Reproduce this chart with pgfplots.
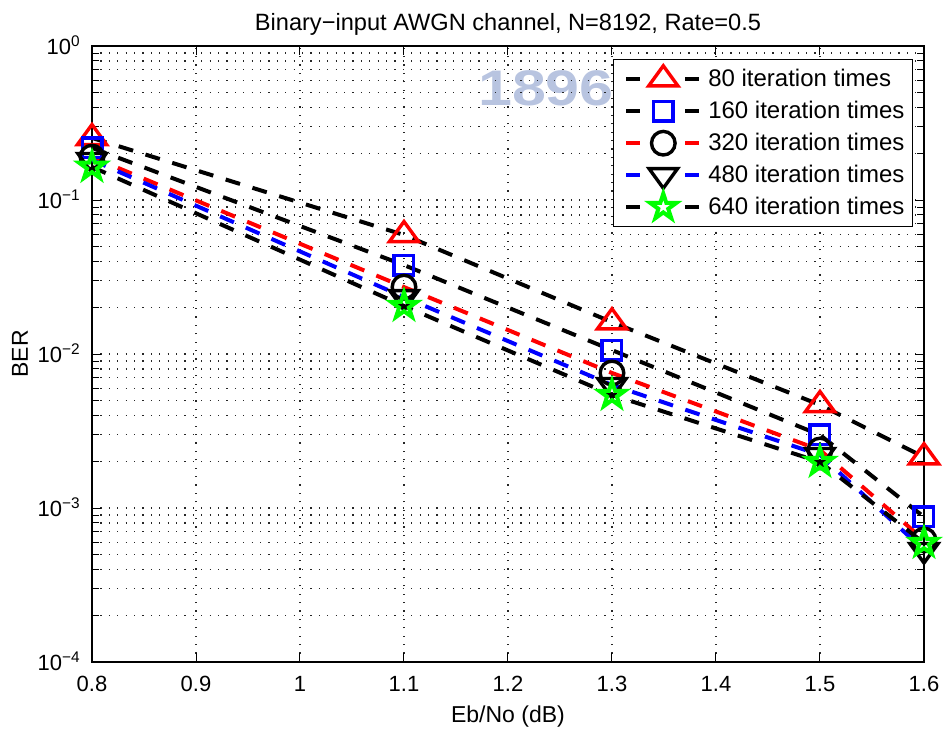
\documentclass[border=0pt]{standalone}
\usepackage{fontspec}
\setmainfont{Liberation Sans}
\usepackage{pgfplots}
\pgfplotsset{compat=1.18}

\definecolor{wm}{RGB}{184,196,224}
\definecolor{mgreen}{RGB}{0,255,0}

% outlined five-pointed star (pentagram) marker
\pgfdeclareplotmark{pentagram}{%
  \pgfpathmoveto{\pgfqpointpolar{90}{\pgfplotmarksize}}%
  \pgfpathlineto{\pgfqpointpolar{126}{0.382\pgfplotmarksize}}%
  \pgfpathlineto{\pgfqpointpolar{162}{\pgfplotmarksize}}%
  \pgfpathlineto{\pgfqpointpolar{198}{0.382\pgfplotmarksize}}%
  \pgfpathlineto{\pgfqpointpolar{234}{\pgfplotmarksize}}%
  \pgfpathlineto{\pgfqpointpolar{270}{0.382\pgfplotmarksize}}%
  \pgfpathlineto{\pgfqpointpolar{306}{\pgfplotmarksize}}%
  \pgfpathlineto{\pgfqpointpolar{342}{0.382\pgfplotmarksize}}%
  \pgfpathlineto{\pgfqpointpolar{18}{\pgfplotmarksize}}%
  \pgfpathlineto{\pgfqpointpolar{54}{0.382\pgfplotmarksize}}%
  \pgfpathclose
  \pgfusepathqstroke
}

\begin{document}
\begin{tikzpicture}
\path[use as bounding box] (-46pt,-33pt) rectangle (427pt,331pt);

% faint seal in the background
\node[text=wm, font=\fontsize{25}{30}\selectfont\bfseries, xscale=1.22] at (227pt,287pt) {1896};

\begin{axis}[
  at={(0pt,0pt)}, anchor=south west,
  scale only axis, width=416pt, height=308pt,
  ymode=log,
  xmin=0.8, xmax=1.6, ymin=1e-4, ymax=1,
  xtick={0.8,0.9,1,1.1,1.2,1.3,1.4,1.5,1.6},
  xticklabels={0.8,0.9,1,1.1,1.2,1.3,1.4,1.5,1.6},
  ytick={1e-4,1e-3,1e-2,1e-1,1},
  yticklabels={10\textsuperscript{−4},10\textsuperscript{−3},10\textsuperscript{−2},10\textsuperscript{−1},10\textsuperscript{0}},
  minor ytick={2e-4,3e-4,4e-4,5e-4,6e-4,7e-4,8e-4,9e-4,
               2e-3,3e-3,4e-3,5e-3,6e-3,7e-3,8e-3,9e-3,
               2e-2,3e-2,4e-2,5e-2,6e-2,7e-2,8e-2,9e-2,
               2e-1,3e-1,4e-1,5e-1,6e-1,7e-1,8e-1,9e-1},
  xmajorgrids, ymajorgrids, yminorgrids,
  grid style={black!85, line width=0.6pt, dash pattern=on 0.6pt off 3.6pt},
  minor grid style={black!85, line width=0.6pt, dash pattern=on 0.6pt off 3.6pt},
  axis line style={line width=0.85pt},
  tick style={black, line width=0.5pt},
  major tick length=4.5pt, minor tick length=3.5pt,
  tick align=inside,
  xticklabel style={font=\fontsize{11}{13}\selectfont, inner sep=0pt, anchor=base, yshift=-14.5pt},
  yticklabel style={font=\fontsize{11}{13}\selectfont, inner sep=0pt, anchor=base east, xshift=-5.5pt, yshift=-4.3pt},
  title={Binary−input AWGN channel, N=8192, Rate=0.5},
  title style={font=\fontsize{11.8}{14}\selectfont, at={(0.5,1)}, anchor=base, yshift=1.5pt, inner sep=0pt},
  xlabel={Eb/No (dB)},
  xlabel style={font=\fontsize{11.5}{14}\selectfont, at={(0.5,0)}, anchor=base, yshift=-30pt, inner sep=0pt},
  ylabel={BER},
  ylabel style={font=\fontsize{11.5}{14}\selectfont, at={(0,0.5)}, anchor=base, yshift=32pt, inner sep=0pt},
  every axis plot/.append style={line width=2pt, dash pattern=on 7.5pt off 6.5pt},
  legend image code/.code={
    \path[draw=none, fill=none] (-2.5pt,-7pt) rectangle (41pt,7pt);
    \draw[#1,solid] (0pt,0pt) -- (7pt,0pt);
    \draw[#1,solid] (29.5pt,0pt) -- (36.5pt,0pt);
    \draw[#1] plot coordinates {(18.5pt,0pt)};
  },
  legend style={at={(axis description cs:0.9868,0.9789)}, anchor=north east,
    draw=black, line width=0.6pt, fill=white,
    inner xsep=4pt, inner ysep=2.8pt,
    font=\fontsize{12}{14}\selectfont,
    nodes={inner sep=0pt}, row sep=2pt},
  legend cell align=left,
]

\addplot[black, mark=triangle, mark size=6.7pt,
  mark options={solid, red, xscale=1.26, line width=1.7pt}]
  coordinates {(0.8,0.253) (1.1,0.0593) (1.3,0.0161) (1.5,0.00467) (1.6,0.00214)};
\addlegendentry{80 iteration times}

\addplot[black, mark=square, mark size=4.9pt,
  mark options={solid, blue, line width=1.7pt}]
  coordinates {(0.8,0.218) (1.1,0.0378) (1.3,0.0106) (1.5,0.00298) (1.6,0.000875)};
\addlegendentry{160 iteration times}

\addplot[red, mark=o, mark size=5.9pt,
  mark options={solid, black, line width=1.7pt}]
  coordinates {(0.8,0.190) (1.1,0.0272) (1.3,0.00753) (1.5,0.00238) (1.6,0.00062)};
\addlegendentry{320 iteration times}

\addplot[blue, mark=triangle, mark size=6.5pt,
  mark options={solid, black, rotate=180, xscale=1.26, line width=1.7pt}]
  coordinates {(0.8,0.182) (1.1,0.0234) (1.3,0.00629) (1.5,0.00221) (1.6,0.000534)};
\addlegendentry{480 iteration times}

\addplot[black, mark=pentagram, mark size=6.8pt,
  mark options={solid, mgreen, line width=2pt, miter limit=4}]
  coordinates {(0.8,0.164) (1.1,0.0205) (1.3,0.00542) (1.5,0.00199) (1.6,0.000593)};
\addlegendentry{640 iteration times}

\end{axis}
\end{tikzpicture}
\end{document}
